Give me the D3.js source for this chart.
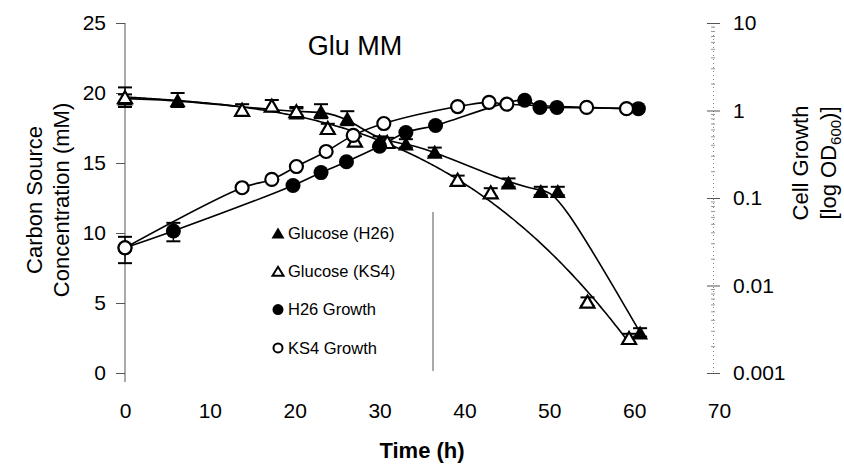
<!DOCTYPE html>
<html>
<head>
<meta charset="utf-8">
<script src="https://cdn.jsdelivr.net/npm/d3@7"></script>
<style>
body { margin: 0; background: #fff; }
text { font-family: "Liberation Sans", Arial, Helvetica, sans-serif; fill: #000; }
</style>
</head>
<body>
<svg id="chart" width="844" height="464"></svg>
<script>
// values (time in h, glucose in mM, growth as OD600)
var h26GluTime = [0, 6.2, 20.2, 23.1, 26.2, 30, 33.1, 36.5, 45.2, 49, 51, 60.7];
var h26Glu     = [19.6, 19.5, 18.6, 18.7, 18.2, 16.6, 16.4, 15.8, 13.6, 13.0, 13.0, 2.9];
var h26GluErr  = [0.3, 0.5, 0.3, 0.5, 0.5, 0.3, 0.3, 0.3, 0.3, 0.3, 0.3, 0.3];

var ks4GluTime = [0, 13.8, 17.3, 20.2, 23.9, 27.1, 30.9, 39.2, 43.1, 54.5, 59.4];
var ks4Glu     = [19.7, 18.8, 19.1, 18.7, 17.5, 16.6, 16.5, 13.8, 12.9, 5.1, 2.5];
var ks4GluErr  = [0.7, 0.4, 0.4, 0.3, 0.3, 0.3, 0.3, 0.3, 0.3, 0.3, 0.3];

var h26GrowthTime = [0, 5.7, 19.8, 23.1, 26.1, 30, 33.1, 36.6, 47.1, 48.9, 50.9, 60.5];
var h26Growth     = [0.027, 0.042, 0.139, 0.195, 0.26, 0.39, 0.56, 0.675, 1.31, 1.085, 1.085, 1.05];
var h26GrowthErr  = [0.009, 0.01, 0, 0, 0, 0, 0, 0, 0, 0, 0, 0];

var ks4GrowthTime = [0, 13.8, 17.3, 20.2, 23.7, 26.9, 30.5, 39.2, 42.9, 45, 54.4, 59.1];
var ks4Growth     = [0.027, 0.131, 0.163, 0.229, 0.34, 0.52, 0.71, 1.11, 1.24, 1.18, 1.085, 1.05];

var timeTicks = [0, 10, 20, 30, 40, 50, 60, 70];
var concTicks = [0, 5, 10, 15, 20, 25];
var odTicks = [0.001, 0.01, 0.1, 1, 10];
var odTickLabels = ["0.001", "0.01", "0.1", "1", "10"];
var legendLabels = ["Glucose (H26)", "Glucose (KS4)", "H26 Growth", "KS4 Growth"];

var svg = d3.select("#chart");

var x = d3.scaleLinear().domain([0, 70]).range([125, 719]);
var yL = d3.scaleLinear().domain([0, 25]).range([373, 23]);
var yR = d3.scaleLog().domain([0.001, 10]).range([373, 23]);

// least squares polynomial (Excel style trendline on the KS4 glucose data)
function polyfit(xs, ys, deg) {
    var n = deg + 1, A = [], b = [], i, j, k;
    for (i = 0; i < n; i++) { A.push(new Array(n).fill(0)); b.push(0); }
    xs.forEach(function(xv, p) {
        var s = xv / 10;
        for (i = 0; i < n; i++) {
            b[i] += ys[p] * Math.pow(s, i);
            for (j = 0; j < n; j++) A[i][j] += Math.pow(s, i + j);
        }
    });
    for (i = 0; i < n; i++) {
        for (k = i + 1; k < n; k++) {
            var f = A[k][i] / A[i][i];
            for (j = i; j < n; j++) A[k][j] -= f * A[i][j];
            b[k] -= f * b[i];
        }
    }
    var c = new Array(n).fill(0);
    for (i = n - 1; i >= 0; i--) {
        var sum = b[i];
        for (j = i + 1; j < n; j++) sum -= A[i][j] * c[j];
        c[i] = sum / A[i][i];
    }
    return function(t) {
        var s = t / 10, v = 0;
        for (var q = 0; q < n; q++) v += c[q] * Math.pow(s, q);
        return v;
    };
}

function trend(xs, ys, deg) {
    var f = polyfit(xs, ys, deg);
    return d3.range(d3.min(xs), d3.max(xs) + 0.001, 0.25).map(function(t) { return [t, f(t)]; });
}

function tri(w, h) {
    return "M0," + (-h / 2) + "L" + (w / 2) + "," + (h / 2) + "L" + (-w / 2) + "," + (h / 2) + "Z";
}

// ---- axes ----
var gL = svg.append("g").attr("transform", "translate(125,0)")
    .call(d3.axisLeft(yL).tickValues(concTicks).tickSize(9).tickPadding(10));
gL.select(".domain").remove();
gL.selectAll("line").attr("stroke", "#555");
gL.selectAll("text").attr("font-size", "21px").attr("font-family", null);
svg.append("line").attr("x1", 125).attr("x2", 125).attr("y1", yL(25)).attr("y2", 382)
    .attr("stroke", "#555").attr("stroke-width", 1);

var gB = svg.append("g").attr("transform", "translate(0,373)")
    .call(d3.axisBottom(x).tickValues(timeTicks).tickSize(0).tickPadding(30));
gB.select(".domain").remove();
gB.selectAll("text").attr("font-size", "21px").attr("font-family", null);

var gR = svg.append("g").attr("transform", "translate(713,0)")
    .call(d3.axisRight(yR).tickValues(odTicks).tickSize(7).tickPadding(13)
        .tickFormat(function(d, i) { return odTickLabels[i]; }));
gR.select(".domain").attr("stroke", "#888").attr("stroke-dasharray", "1,3");
gR.selectAll(".tick line").attr("x1", -6).attr("stroke", "#555");
gR.selectAll("text").attr("font-size", "21px").attr("font-family", null);

var minor = [];
odTicks.slice(0, 4).forEach(function(d) {
    for (var k = 2; k < 10; k++) minor.push(d * k);
});
svg.append("g").selectAll("line").data(minor).enter().append("line")
    .attr("x1", 711).attr("x2", 715)
    .attr("y1", function(d) { return yR(d); }).attr("y2", function(d) { return yR(d); })
    .attr("stroke", "#999").attr("stroke-width", 1);

// ---- titles ----
svg.append("text").attr("x", 355).attr("y", 55).attr("text-anchor", "middle")
    .attr("font-size", "27px").text("Glu MM");

svg.append("text").attr("x", 422).attr("y", 458).attr("text-anchor", "middle")
    .attr("font-size", "22px").attr("font-weight", "bold").text("Time (h)");

svg.append("text").attr("transform", "translate(42,200) rotate(-90)")
    .attr("text-anchor", "middle").attr("font-size", "22px").text("Carbon Source");
svg.append("text").attr("transform", "translate(69,200) rotate(-90)")
    .attr("text-anchor", "middle").attr("font-size", "22px").text("Concentration (mM)");

svg.append("text").attr("transform", "translate(808,163) rotate(-90)")
    .attr("text-anchor", "middle").attr("font-size", "22px").text("Cell Growth");
var rl = svg.append("text").attr("transform", "translate(836,163) rotate(-90)")
    .attr("text-anchor", "middle").attr("font-size", "22px");
rl.append("tspan").text("[log OD");
rl.append("tspan").attr("font-size", "15px").attr("dy", 5).text("600");
rl.append("tspan").attr("dy", -5).text(")]");

// ---- lines ----
var lineL = d3.line().x(function(d) { return x(d[0]); }).y(function(d) { return yL(d[1]); });
var lineBasis = d3.line().x(function(d) { return x(d[0]); }).y(function(d) { return yL(d[1]); })
    .curve(d3.curveBasis);
var lineR = d3.line().x(function(d) { return x(d[0]); }).y(function(d) { return yR(d[1]); })
    .curve(d3.curveCatmullRom.alpha(0.5));

function pairs(a, b) { return a.map(function(t, i) { return [t, b[i]]; }); }

svg.append("path").attr("d", lineBasis(pairs(h26GluTime, h26Glu)))
    .attr("fill", "none").attr("stroke", "#000").attr("stroke-width", 1.6);
svg.append("path").attr("d", lineL(trend(ks4GluTime, ks4Glu, 3)))
    .attr("fill", "none").attr("stroke", "#000").attr("stroke-width", 1.6);
svg.append("path").attr("d", lineR(pairs(h26GrowthTime, h26Growth)))
    .attr("fill", "none").attr("stroke", "#000").attr("stroke-width", 1.6);
svg.append("path").attr("d", lineR(pairs(ks4GrowthTime, ks4Growth)))
    .attr("fill", "none").attr("stroke", "#000").attr("stroke-width", 1.6);

// ---- error bars ----
function errBars(times, vals, errs, y) {
    var g = svg.append("g").attr("stroke", "#000").attr("stroke-width", 1.4);
    times.forEach(function(t, i) {
        if (!errs[i]) return;
        var cx = x(t), y1 = y(vals[i] - errs[i]), y2 = y(vals[i] + errs[i]);
        g.append("line").attr("x1", cx).attr("x2", cx).attr("y1", y1).attr("y2", y2);
        g.append("line").attr("x1", cx - 7).attr("x2", cx + 7).attr("y1", y1).attr("y2", y1).attr("stroke-width", 2);
        g.append("line").attr("x1", cx - 7).attr("x2", cx + 7).attr("y1", y2).attr("y2", y2).attr("stroke-width", 2);
    });
}
errBars(h26GluTime, h26Glu, h26GluErr, yL);
errBars(ks4GluTime, ks4Glu, ks4GluErr, yL);
errBars(h26GrowthTime, h26Growth, h26GrowthErr, yR);

// ---- markers ----
svg.append("g").selectAll("path").data(pairs(h26GluTime, h26Glu)).enter().append("path")
    .attr("d", tri(16, 14))
    .attr("transform", function(d) { return "translate(" + x(d[0]) + "," + yL(d[1]) + ")"; })
    .attr("fill", "#000");
svg.append("g").selectAll("path").data(pairs(ks4GluTime, ks4Glu)).enter().append("path")
    .attr("d", tri(14, 12))
    .attr("transform", function(d) { return "translate(" + x(d[0]) + "," + yL(d[1]) + ")"; })
    .attr("fill", "#fff").attr("stroke", "#000").attr("stroke-width", 2.2);
svg.append("g").selectAll("circle").data(pairs(h26GrowthTime, h26Growth)).enter().append("circle")
    .attr("cx", function(d) { return x(d[0]); }).attr("cy", function(d) { return yR(d[1]); })
    .attr("r", 7.5).attr("fill", "#000");
svg.append("g").selectAll("circle").data(pairs(ks4GrowthTime, ks4Growth)).enter().append("circle")
    .attr("cx", function(d) { return x(d[0]); }).attr("cy", function(d) { return yR(d[1]); })
    .attr("r", 6.5).attr("fill", "#fff").attr("stroke", "#000").attr("stroke-width", 2.2);

// ---- legend ----
svg.append("line").attr("x1", 433).attr("x2", 433).attr("y1", 212).attr("y2", 371)
    .attr("stroke", "#555").attr("stroke-width", 1);
var leg = svg.append("g").selectAll("g").data(legendLabels).enter().append("g")
    .attr("transform", function(d, i) { return "translate(278," + (233 + i * 38.3) + ")"; });
leg.each(function(d, i) {
    var g = d3.select(this);
    if (i === 0) g.append("path").attr("d", tri(13, 11)).attr("fill", "#000");
    if (i === 1) g.append("path").attr("d", tri(11, 9)).attr("fill", "#fff").attr("stroke", "#000").attr("stroke-width", 2);
    if (i === 2) g.append("circle").attr("r", 5.5).attr("fill", "#000");
    if (i === 3) g.append("circle").attr("r", 4.5).attr("fill", "#fff").attr("stroke", "#000").attr("stroke-width", 2);
    g.append("text").attr("x", 10).attr("dy", "0.35em").attr("font-size", "16.5px").text(d);
});
</script>
</body>
</html>
